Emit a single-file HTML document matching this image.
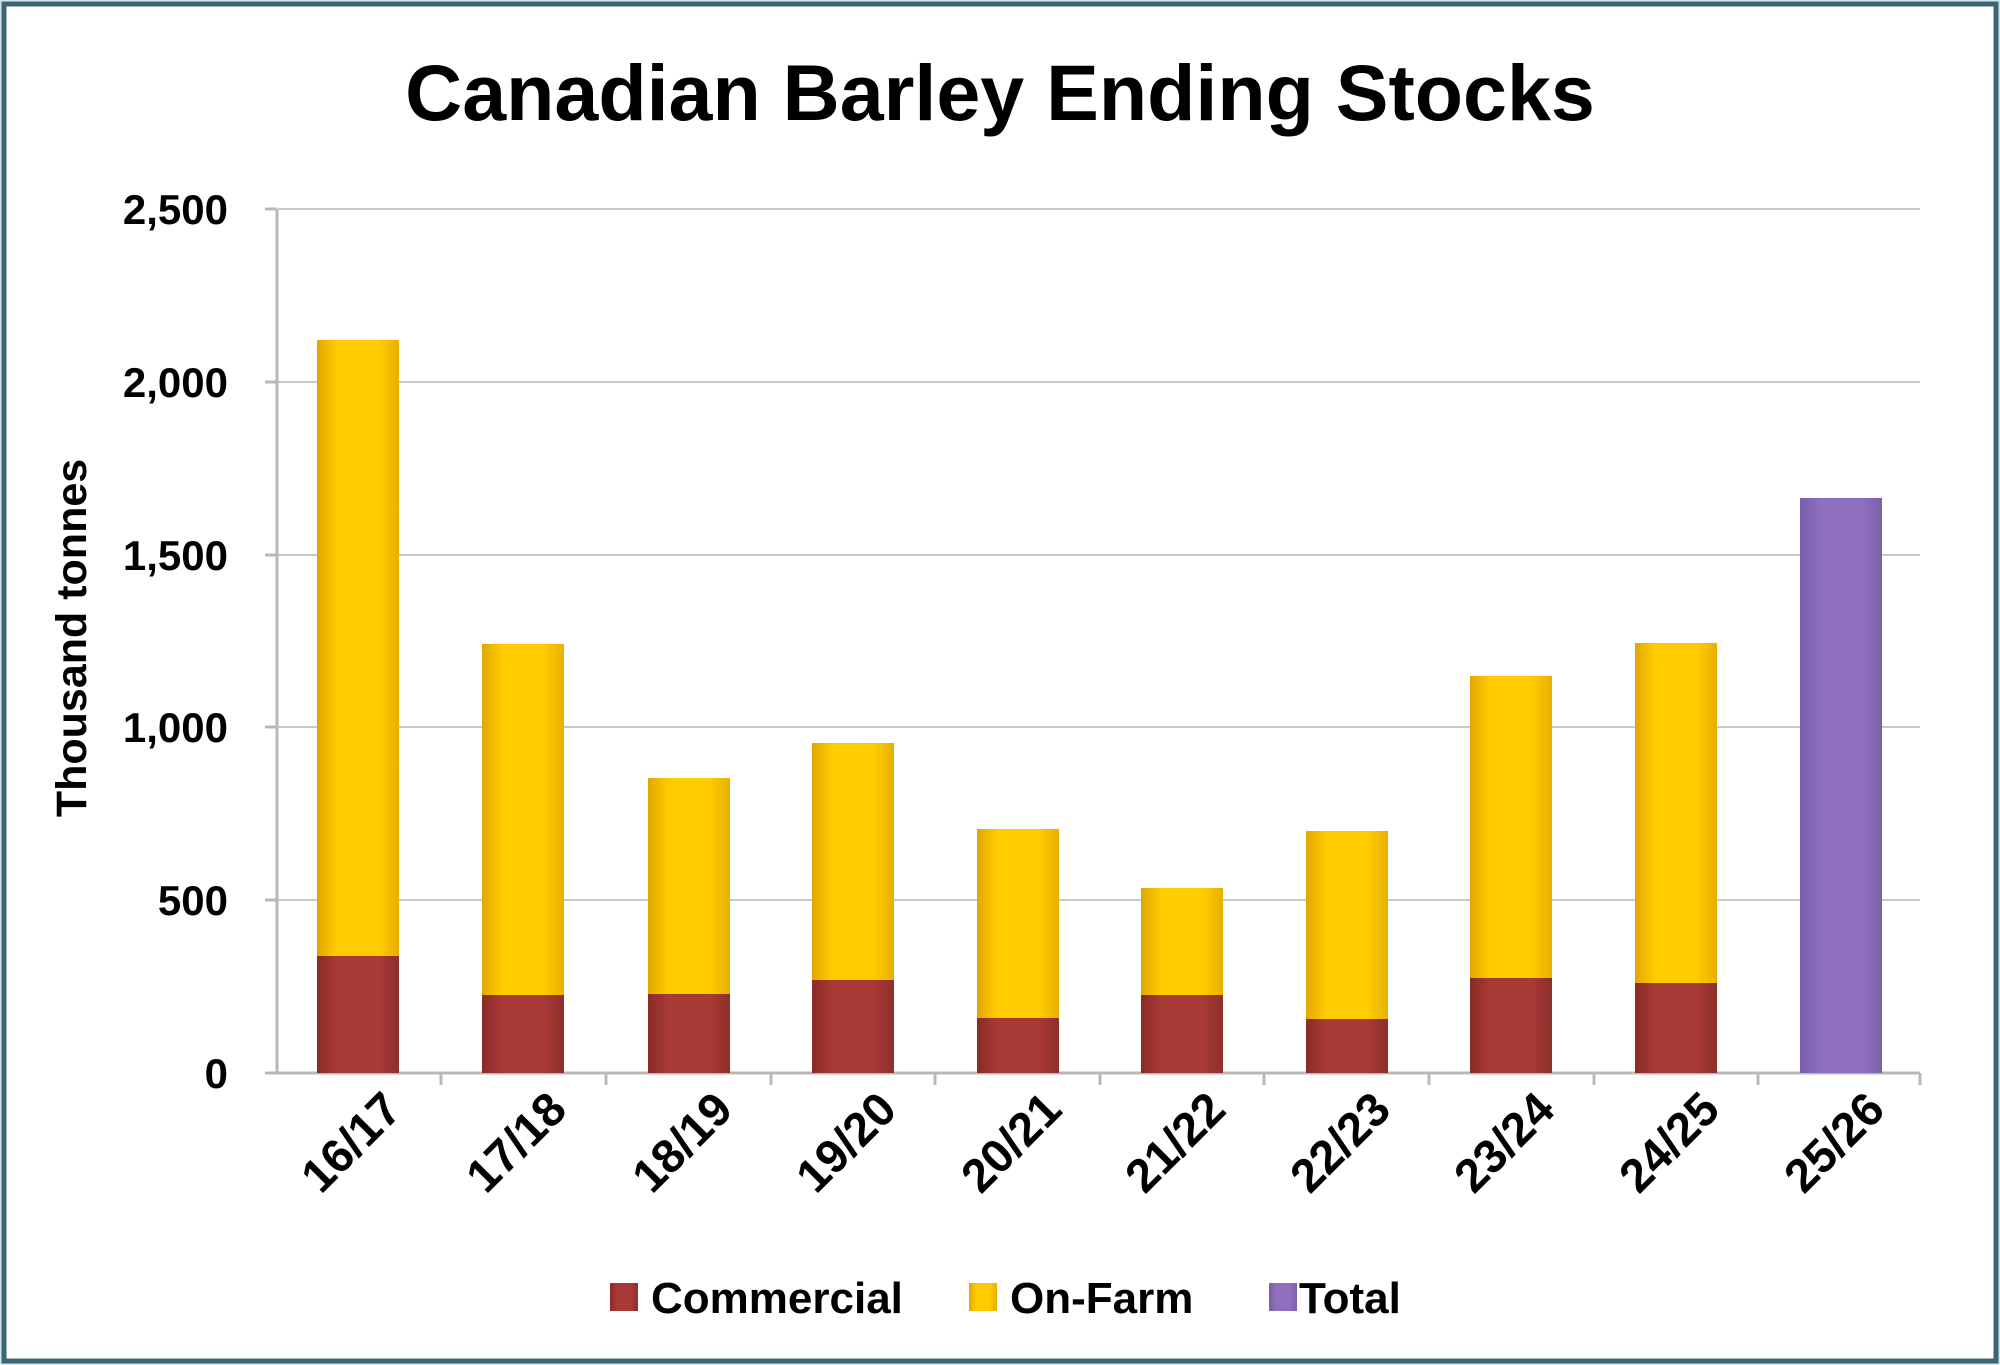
<!DOCTYPE html>
<html><head><meta charset="utf-8"><style>
html,body{margin:0;padding:0;background:#fff;}
svg{display:block;font-family:"Liberation Sans",sans-serif;}
</style></head><body>
<svg width="2000" height="1365" viewBox="0 0 2000 1365">
<defs>
<linearGradient id="gy" x1="0" x2="1"><stop offset="0" stop-color="#e0a800"/><stop offset="0.25" stop-color="#ffcc00"/><stop offset="0.75" stop-color="#ffcc00"/><stop offset="1" stop-color="#e6b000"/></linearGradient>
<linearGradient id="gr" x1="0" x2="1"><stop offset="0" stop-color="#8a2a28"/><stop offset="0.25" stop-color="#a83a36"/><stop offset="0.75" stop-color="#a83a36"/><stop offset="1" stop-color="#8e2e2c"/></linearGradient>
<linearGradient id="gp" x1="0" x2="1"><stop offset="0" stop-color="#7a5ea8"/><stop offset="0.25" stop-color="#8e70bf"/><stop offset="0.75" stop-color="#8e70bf"/><stop offset="1" stop-color="#7c60aa"/></linearGradient>
</defs>
<rect x="0" y="0" width="2000" height="1365" fill="#cfe6ee"/>
<rect x="4" y="4" width="1992" height="1357" fill="#fff" stroke="#3d6573" stroke-width="5"/>
<text x="1000" y="120" text-anchor="middle" font-size="79" font-weight="bold" fill="#000">Canadian Barley Ending Stocks</text>
<g stroke="#c8c8c8" stroke-width="2">
<line x1="278" y1="209" x2="1920" y2="209"/>
<line x1="278" y1="382" x2="1920" y2="382"/>
<line x1="278" y1="555" x2="1920" y2="555"/>
<line x1="278" y1="727" x2="1920" y2="727"/>
<line x1="278" y1="900" x2="1920" y2="900"/>
</g>
<g stroke="#b8b8b8" stroke-width="3">
<line x1="277" y1="209" x2="277" y2="1073"/>
<line x1="265" y1="1073" x2="1920" y2="1073"/>
<line x1="265" y1="209" x2="277" y2="209"/><line x1="265" y1="382" x2="277" y2="382"/><line x1="265" y1="555" x2="277" y2="555"/><line x1="265" y1="727" x2="277" y2="727"/><line x1="265" y1="900" x2="277" y2="900"/>
<line x1="441" y1="1073" x2="441" y2="1085"/><line x1="606" y1="1073" x2="606" y2="1085"/><line x1="771" y1="1073" x2="771" y2="1085"/><line x1="935" y1="1073" x2="935" y2="1085"/><line x1="1100" y1="1073" x2="1100" y2="1085"/><line x1="1264" y1="1073" x2="1264" y2="1085"/><line x1="1429" y1="1073" x2="1429" y2="1085"/><line x1="1594" y1="1073" x2="1594" y2="1085"/><line x1="1758" y1="1073" x2="1758" y2="1085"/><line x1="1920" y1="1073" x2="1920" y2="1085"/>
</g>
<g font-size="42" font-weight="bold" text-anchor="end" fill="#000">
<text x="228" y="224">2,500</text><text x="228" y="397">2,000</text><text x="228" y="570">1,500</text><text x="228" y="742">1,000</text><text x="228" y="915">500</text><text x="228" y="1088">0</text>
</g>
<text transform="translate(86,638) rotate(-90)" text-anchor="middle" font-size="43" font-weight="bold">Thousand tonnes</text>
<g id="bars">
<rect x="317" y="340" width="82" height="616" fill="url(#gy)"/><rect x="317" y="956" width="82" height="117" fill="url(#gr)"/>
<rect x="482" y="644" width="82" height="351" fill="url(#gy)"/><rect x="482" y="995" width="82" height="78" fill="url(#gr)"/>
<rect x="648" y="778" width="82" height="216" fill="url(#gy)"/><rect x="648" y="994" width="82" height="79" fill="url(#gr)"/>
<rect x="812" y="743" width="82" height="237" fill="url(#gy)"/><rect x="812" y="980" width="82" height="93" fill="url(#gr)"/>
<rect x="977" y="829" width="82" height="189" fill="url(#gy)"/><rect x="977" y="1018" width="82" height="55" fill="url(#gr)"/>
<rect x="1141" y="888" width="82" height="107" fill="url(#gy)"/><rect x="1141" y="995" width="82" height="78" fill="url(#gr)"/>
<rect x="1306" y="831" width="82" height="188" fill="url(#gy)"/><rect x="1306" y="1019" width="82" height="54" fill="url(#gr)"/>
<rect x="1470" y="676" width="82" height="302" fill="url(#gy)"/><rect x="1470" y="978" width="82" height="95" fill="url(#gr)"/>
<rect x="1635" y="643" width="82" height="340" fill="url(#gy)"/><rect x="1635" y="983" width="82" height="90" fill="url(#gr)"/>
<rect x="1800" y="498" width="82" height="575" fill="url(#gp)"/>
</g>
<g font-size="47" font-weight="bold" text-anchor="end">
<text transform="translate(404,1112) rotate(-45)">16/17</text>
<text transform="translate(569,1112) rotate(-45)">17/18</text>
<text transform="translate(735,1112) rotate(-45)">18/19</text>
<text transform="translate(899,1112) rotate(-45)">19/20</text>
<text transform="translate(1064,1112) rotate(-45)">20/21</text>
<text transform="translate(1228,1112) rotate(-45)">21/22</text>
<text transform="translate(1393,1112) rotate(-45)">22/23</text>
<text transform="translate(1557,1112) rotate(-45)">23/24</text>
<text transform="translate(1722,1112) rotate(-45)">24/25</text>
<text transform="translate(1887,1112) rotate(-45)">25/26</text>
</g>
<g font-size="44" font-weight="bold">
<rect x="610" y="1283" width="28" height="28" fill="url(#gr)"/><text x="651" y="1313">Commercial</text>
<rect x="969" y="1283" width="28" height="28" fill="url(#gy)"/><text x="1010" y="1313">On-Farm</text>
<rect x="1269" y="1283" width="28" height="28" fill="url(#gp)"/><text x="1299" y="1313">Total</text>
</g>
</svg>
</body></html>
